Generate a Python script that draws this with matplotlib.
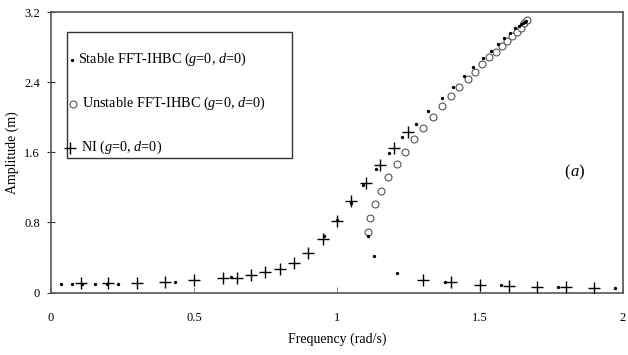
import matplotlib
matplotlib.use("Agg")
import matplotlib.pyplot as plt
from matplotlib.patches import Rectangle

plt.rcParams['font.family'] = ['Liberation Serif', 'DejaVu Serif']
plt.rcParams['mathtext.fontset'] = 'custom'
plt.rcParams['mathtext.rm'] = 'Liberation Serif'
plt.rcParams['mathtext.it'] = 'Liberation Serif:italic'

# Stable FFT-IHBC
stable_x = [0.034, 0.072, 0.11, 0.154, 0.197, 0.235, 0.434, 0.629, 0.955, 1.0,
            1.048, 1.092, 1.137, 1.183, 1.228, 1.276, 1.319, 1.366, 1.404, 1.444,
            1.477, 1.509, 1.537, 1.564, 1.584, 1.605, 1.622, 1.635, 1.645, 1.652,
            1.658, 1.662,
            1.11, 1.131, 1.211, 1.378, 1.572, 1.774, 1.972]
stable_y = [0.10, 0.10, 0.10, 0.10, 0.10, 0.10, 0.12, 0.18, 0.645, 0.83,
            1.02, 1.227, 1.41, 1.59, 1.77, 1.92, 2.075, 2.217, 2.349, 2.471,
            2.578, 2.674, 2.76, 2.837, 2.902, 2.959, 3.016, 3.04, 3.06, 3.08,
            3.09, 3.10,
            0.645, 0.417, 0.226, 0.116, 0.086, 0.066, 0.048]

# Unstable FFT-IHBC
unstable_x = [1.11, 1.115, 1.133, 1.154, 1.179, 1.209, 1.238, 1.270, 1.302, 1.337,
              1.368, 1.399, 1.428, 1.457, 1.483, 1.508, 1.533, 1.556, 1.577, 1.595,
              1.612, 1.628, 1.642, 1.654, 1.663]
unstable_y = [0.694, 0.847, 1.007, 1.162, 1.322, 1.467, 1.607, 1.749, 1.881, 2.007,
              2.129, 2.243, 2.342, 2.437, 2.521, 2.605, 2.685, 2.749, 2.814, 2.874,
              2.928, 2.97, 3.019, 3.073, 3.11]

# NI
ni_x = [0.104, 0.2, 0.3, 0.4, 0.5, 0.6, 0.65, 0.7, 0.75, 0.8, 0.85, 0.9, 0.95,
        1.0, 1.05, 1.1, 1.15, 1.2, 1.25, 1.3, 1.4, 1.5, 1.6, 1.7, 1.8, 1.9]
ni_y = [0.105, 0.105, 0.105, 0.12, 0.143, 0.162, 0.169, 0.20, 0.23, 0.268, 0.34,
        0.447, 0.61, 0.82, 1.045, 1.253, 1.455, 1.65, 1.83, 0.143, 0.116, 0.086,
        0.074, 0.059, 0.059, 0.048]

xticks = [0, 0.5, 1, 1.5, 2]
xtick_labels = ['0', '0.5', '1', '1.5', '2']
yticks = [0, 0.8, 1.6, 2.4, 3.2]
ytick_labels = ['0', '0.8', '1.6', '2.4', '3.2']

legend_labels = [r'Stable FFT-IHBC ($g$=0, $d$=0)',
                 r'Unstable FFT-IHBC ($g$=0, $d$=0)',
                 r'NI ($g$=0, $d$=0)']

stable_style = dict(linestyle='none', marker='o', markersize=2.4, color='black',
                    markeredgewidth=0)
unstable_style = dict(linestyle='none', marker='o', markersize=5, markerfacecolor='white',
                      markeredgecolor='#555555', markeredgewidth=0.8)
ni_style = dict(linestyle='none', marker='+', markersize=8, color='black',
                markeredgewidth=1.0)

fig = plt.figure(figsize=(6.28, 3.55), dpi=100)
ax = fig.add_axes([0.0812, 0.176, 0.9108, 0.790])

ax.plot(unstable_x, unstable_y, zorder=2, **unstable_style)
ax.plot(ni_x, ni_y, zorder=3, **ni_style)
ax.plot(stable_x, stable_y, zorder=4, **stable_style)

ax.set_xlim(0, 2)
ax.set_ylim(0, 3.2)
ax.set_xticks(xticks)
ax.set_xticklabels(xtick_labels)
ax.set_yticks(yticks)
ax.set_yticklabels(ytick_labels)
ax.tick_params(axis='x', direction='in', length=4, width=0.6, pad=14, labelsize=9,
               color='#777777')
ax.tick_params(axis='y', direction='inout', length=6, width=0.8, pad=5, labelsize=9,
               color='#333333')
for s in ax.spines.values():
    s.set_color('#555555')
    s.set_linewidth(1.2)

ax.set_xlabel('Frequency (rad/s)', fontsize=10, labelpad=6)
ax.set_ylabel('Amplitude (m)', fontsize=10)
ax.yaxis.set_label_coords(-0.056, 0.5)

ax.text(0.908, 0.43, '(', transform=ax.transAxes, fontsize=12, ha='right', va='center')
ax.text(0.908, 0.43, r'$a$)', transform=ax.transAxes, fontsize=12, ha='left', va='center')

# legend box drawn by hand
x0, x1 = 0.028, 0.4213
yb, yt = 0.4795, 0.9287
ax.add_patch(Rectangle((x0, yb), x1 - x0, yt - yb, transform=ax.transAxes,
                       facecolor='white', edgecolor='#333333', linewidth=1.0,
                       zorder=5, clip_on=False))
entry_y = [0.8304, 0.6735, 0.5167]
marker_x = [0.0362, 0.0380, 0.0333]
text_x = [0.0475, 0.0534, 0.0520]
styles = [stable_style, unstable_style, ni_style]
for lab, ey, mx, tx, st in zip(legend_labels, entry_y, marker_x, text_x, styles):
    ax.plot([mx], [ey], transform=ax.transAxes, clip_on=False, zorder=6, **st)
    ax.text(tx, ey, lab, transform=ax.transAxes, fontsize=10.3, ha='left',
            va='center', zorder=6)

fig.savefig('out.png', dpi=100)
